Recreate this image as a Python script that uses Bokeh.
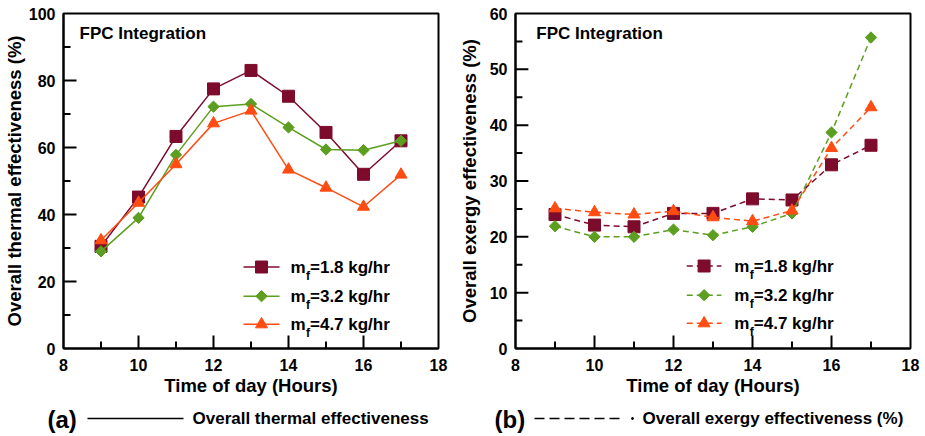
import math
from bokeh.plotting import figure
from bokeh.layouts import column, row
from bokeh.models import Range1d, SingleIntervalTicker
from bokeh.core.properties import value
from bokeh.embed import file_html
from bokeh.resources import INLINE

# ---------------- data ----------------
hours = [9, 10, 11, 12, 13, 14, 15, 16, 17]
thermal_18 = [30.5, 45.2, 63.3, 77.5, 83.0, 75.3, 64.5, 52.0, 62.0]
thermal_32 = [29.0, 39.0, 57.8, 72.2, 73.0, 66.0, 59.4, 59.2, 62.0]
thermal_47 = [32.3, 43.5, 55.0, 67.2, 71.0, 53.4, 48.0, 42.3, 51.9]
exergy_18 = [24.0, 22.1, 21.8, 24.2, 24.2, 26.8, 26.6, 32.9, 36.4]
exergy_32 = [21.9, 20.0, 20.0, 21.3, 20.3, 21.8, 24.2, 38.7, 55.7]
exergy_47 = [25.1, 24.4, 24.0, 24.6, 23.5, 22.8, 24.7, 35.9, 43.2]
series_names = ["1.8", "3.2", "4.7"]
x_major_ticks = [10, 12, 14, 16]
x_minor_ticks = [9, 11, 13, 15, 17]
y_major_ticks_a = [20, 40, 60, 80]
y_minor_ticks_a = [10, 30, 50, 70, 90]
y_major_ticks_b = [10, 20, 30, 40, 50]
y_minor_ticks_b = [5, 15, 25, 35, 45, 55]
x_label = "Time of day (Hours)"
y_label_a = "Overall thermal effectiveness (%)"
y_label_b = "Overall exergy effectiveness (%)"
panel_note = "FPC Integration"
caption_a = "Overall thermal effectiveness"
caption_b = "Overall exergy effectiveness (%)"

# ---------------- styles ----------------
COLORS = ["#7d0c2c", "#5c9e1f", "#ff4c12"]
FONT = "Liberation Sans"
TOP_H = 398
CAP_H = 38
MAJOR_LEN = 13
MINOR_LEN = 7
TICK_W = 2


def make_panel(width, left, right, ymax, yint, ylabel, ys, dash, label_standoff,
               leg_x, leg_text_x, leg_y, note_x, ymaj, ymin):
    p = figure(width=width, height=TOP_H, output_backend="svg", toolbar_location=None,
               x_range=Range1d(8, 18), y_range=Range1d(0, ymax))
    p.min_border_left = left
    p.min_border_right = right
    p.min_border_top = 13
    p.min_border_bottom = 10
    p.background_fill_color = "white"
    p.border_fill_color = "white"
    p.outline_line_color = "black"
    p.outline_line_width = 2
    p.xgrid.visible = False
    p.ygrid.visible = False

    p.xaxis.ticker = SingleIntervalTicker(interval=2, num_minor_ticks=2)
    p.yaxis.ticker = SingleIntervalTicker(interval=yint, num_minor_ticks=2)
    for ax in (p.xaxis[0], p.yaxis[0]):
        ax.axis_line_width = 2
        ax.major_tick_in = 0
        ax.major_tick_out = 0
        ax.minor_tick_in = 0
        ax.minor_tick_out = 0
        ax.major_label_text_font = FONT
        ax.major_label_text_font_style = "bold"
        ax.major_label_text_font_size = "16px"
        ax.major_label_text_color = "black"
        ax.axis_label_text_font = FONT
        ax.axis_label_text_font_style = "bold"
        ax.axis_label_text_font_size = "18.5px"
        ax.axis_label_text_color = "black"
    p.xaxis.axis_label = x_label
    p.xaxis.major_label_standoff = 10
    p.xaxis.axis_label_standoff = 1
    p.yaxis.axis_label = ylabel
    p.yaxis.major_label_standoff = 8
    p.yaxis.axis_label_standoff = label_standoff

    fx0 = left
    fx1 = width - right
    fy0, fy1 = 13, 346
    xpp = 10 / (fx1 - fx0)          # data units per pixel (x)
    ypp = ymax / (fy1 - fy0)        # data units per pixel (y)

    # inward ticks as thin bars built from the tick lists
    for ticks, ln in ((x_major_ticks, MAJOR_LEN), (x_minor_ticks, MINOR_LEN)):
        p.vbar(x=ticks, width=TICK_W * xpp, bottom=0, top=ln * ypp,
               fill_color="black", line_color=None)
    for ticks, ln in ((ymaj, MAJOR_LEN), (ymin, MINOR_LEN)):
        p.hbar(y=ticks, height=TICK_W * ypp, left=8, right=8 + ln * xpp,
               fill_color="black", line_color=None)

    def dx(px):
        return 8 + (px - fx0) * xpp

    def dy(py):
        return (fy1 - py) * ypp

    markers = [("square", 12, 0.0), ("square", 8, math.pi / 4), ("triangle", 12, 0.0)]
    for yv, col, (mk, sz, ang) in zip(ys, COLORS, markers):
        p.line(hours, yv, line_color=col, line_width=1.5, line_dash=dash)
        p.scatter(hours, yv, marker=mk, size=sz, angle=ang, fill_color=col,
                  line_color=col, line_width=1)

    # manual legend with subscript
    for i, (name, col, (mk, sz, ang)) in enumerate(zip(series_names, COLORS, markers)):
        yy = dy(leg_y[i])
        p.line([dx(leg_x[0]), dx(leg_x[1])], [yy, yy], line_color=col,
               line_width=1.5, line_dash=dash)
        p.scatter([dx((leg_x[0] + leg_x[1]) / 2)], [yy], marker=mk, size=sz, angle=ang,
                  fill_color=col, line_color=col)
        tx = dx(leg_text_x)
        p.text([tx], [yy], text=["m"], text_font=value(FONT), text_font_style="bold",
               text_font_size="17px", text_baseline="middle", text_align="left",
               text_color="black")
        p.text([tx], [yy], text=["f"], x_offset=15.5, y_offset=9, text_font=value(FONT),
               text_font_style="bold", text_font_size="12px", text_baseline="middle",
               text_align="left", text_color="black")
        p.text([tx], [yy], text=["=" + name + " kg/hr"], x_offset=19.5,
               text_font=value(FONT), text_font_style="bold", text_font_size="17px",
               text_baseline="middle", text_align="left", text_color="black")

    p.text([dx(note_x)], [dy(33)], text=[panel_note], text_font=value(FONT),
           text_font_style="bold", text_font_size="17px", text_baseline="middle",
           text_align="left", text_color="black")
    return p


pa = make_panel(455, 63, 17, 100, 20, y_label_a, [thermal_18, thermal_32, thermal_47],
                "solid", 1, (243, 279), 290, (265, 294, 322), 79,
                y_major_ticks_a, y_minor_ticks_a)
# right panel starts at x=455 in the window
pb = make_panel(470, 56, 15, 60, 10, y_label_b, [exergy_18, exergy_32, exergy_47],
                "6 4", 7, (684 - 455, 719 - 455), 732 - 455, (264, 293, 321), 532 - 455,
                y_major_ticks_b, y_minor_ticks_b)

# caption strip
pc = figure(width=925, height=CAP_H, output_backend="svg", toolbar_location=None,
            x_range=Range1d(0, 925), y_range=Range1d(CAP_H, 0))
pc.min_border = 0
pc.outline_line_color = None
pc.xaxis.visible = False
pc.yaxis.visible = False
pc.xgrid.visible = False
pc.ygrid.visible = False
pc.background_fill_color = "white"
pc.border_fill_color = "white"

pc.text([47, 494], [21, 21], text=["(a)", "(b)"], text_font=value(FONT),
        text_font_style="bold", text_font_size="24px", text_baseline="middle",
        text_align="left", text_color="black")
pc.line([87, 183], [20, 20], line_color="black", line_width=1.5)
pc.line([534, 623], [20, 20], line_color="black", line_width=1.5, line_dash="10 5")
pc.scatter([632], [20], marker="circle", size=2, fill_color="black", line_color="black")
pc.text([192, 642], [20, 20], text=[caption_a, caption_b], text_font=value(FONT),
        text_font_style="bold", text_font_size="17px", text_baseline="middle",
        text_align="left", text_color="black")

layout = column(row(pa, pb, spacing=0), pc, spacing=0)
open("out.html", "w").write(file_html(layout, INLINE))
